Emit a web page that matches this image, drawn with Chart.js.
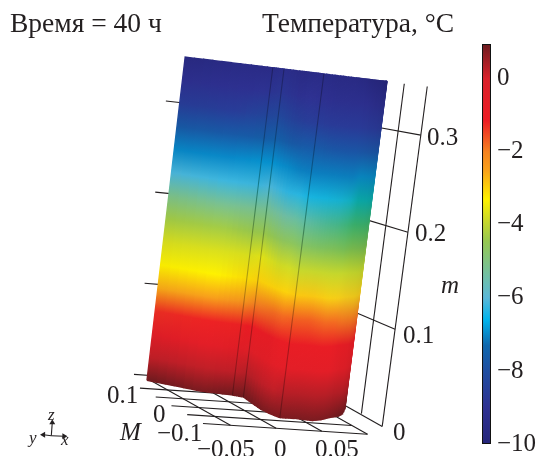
<!DOCTYPE html>
<html>
<head>
<meta charset="utf-8">
<script src="https://cdn.jsdelivr.net/npm/chart.js@4"></script>
<style>
	html, body { margin: 0; padding: 0; background: #fff; overflow: hidden; }
	#surface { position: absolute; left: 0; top: 0; }
	#colorbar { position: absolute; left: 470px; top: 0; }
</style>
</head>
<body>
<canvas id="surface" width="539" height="456"></canvas>
<canvas id="colorbar" width="69" height="456"></canvas>
<script>
// cross section of the wall
const crossX = [-0.054, -0.011, 0.0195, 0.0287, 0.0233, 0.0247, 0.0282, 0.0469, 0.062, 0.0752, 0.0892, 0.1036, 0.1139, 0.1306, 0.1436]
const crossM = [0.153, 0.107, 0.095, 0.087, 0.018, -0.0088, -0.03, -0.029, -0.035, -0.0251, -0.009, 0.004, 0.021, 0.0604, 0.098]
const columnShade = [0.97, 1, 0.98, 0.98, 0.98, 1, 1, 1, 1, 1, 0.98, 0.96, 0.94, 0.94, 0.96]
// how far a column leans to the greener, lit palette
const columnLit = [0, 0, 0, 0, 0, 0.1, 0.2, 0.4, 0.6, 0.8, 1, 1, 1, 1, 1]
const heights = [0, 0.025, 0.05, 0.075, 0.1, 0.125, 0.15, 0.175, 0.2, 0.225, 0.25, 0.275, 0.3, 0.325, 0.35]

// temperature per column, bottom to top
const temps = [
	[0.9, 0.2, -0.6, -1.3, -2.6, -3.3, -3.7, -4.3, -5.1, -6.1, -7.0, -7.7, -8.6, -9.1, -9.6],
	[0.8, 0.2, -0.6, -1.2, -2.5, -3.3, -3.7, -4.3, -5.2, -6.2, -7.0, -7.7, -8.6, -9.1, -9.5],
	[0.9, 0.2, -0.6, -1.2, -2.3, -3.1, -3.7, -4.4, -5.2, -6.2, -6.9, -7.6, -8.3, -8.9, -9.4],
	[0.9, 0.3, -0.5, -1.1, -2.0, -3.0, -3.6, -4.4, -5.2, -6.1, -6.9, -7.5, -8.2, -8.8, -9.2],
	[0.8, 0.2, -0.6, -0.9, -1.8, -3.0, -3.8, -4.6, -5.4, -6.3, -7.0, -7.7, -8.5, -9.0, -9.5],
	[0.8, 0.2, -0.6, -0.9, -1.8, -3.0, -3.8, -4.6, -5.4, -6.3, -7.1, -7.7, -8.6, -9.0, -9.5],
	[0.8, 0.3, -0.6, -0.9, -1.7, -2.9, -3.9, -4.7, -5.5, -6.4, -7.1, -7.7, -8.6, -9.1, -9.5],
	[0.8, 0.3, -0.6, -0.9, -1.7, -2.9, -3.9, -4.7, -5.5, -6.4, -7.1, -7.8, -8.7, -9.2, -9.6],
	[0.8, 0.3, -0.6, -0.9, -1.8, -3.0, -3.9, -4.6, -5.4, -6.3, -7.1, -7.8, -8.7, -9.2, -9.6],
	[0.8, 0.3, -0.6, -0.9, -1.8, -3.0, -3.9, -4.6, -5.3, -6.2, -7.1, -7.8, -8.7, -9.2, -9.7],
	[0.8, 0.3, -0.5, -0.9, -1.9, -3.0, -3.9, -4.5, -5.2, -6.0, -7.0, -7.8, -8.7, -9.2, -9.8],
	[0.9, 0.3, -0.5, -0.9, -1.9, -3.0, -3.9, -4.5, -5.2, -6.0, -7.0, -7.8, -8.7, -9.3, -9.8],
	[0.9, 0.3, -0.5, -0.9, -1.9, -3.0, -3.9, -4.5, -5.2, -6.0, -7.0, -7.8, -8.7, -9.3, -9.9],
	[0.9, 0.3, -0.5, -0.9, -1.9, -3.0, -3.9, -4.5, -5.2, -6.0, -7.0, -7.8, -8.7, -9.3, -9.9],
	[0.9, 0.3, -0.5, -0.9, -1.9, -3.0, -3.9, -4.5, -5.2, -6.0, -7.0, -7.8, -8.7, -9.3, -9.9],
]

// palette of the colour bar, and the same steps as seen on the lit side
const paletteValues = [-10, -9, -8, -7.3, -6.6, -6, -5.5, -4.45, -3.9, -3.3, -2.5, -2, -1.15, 0, 0.95]
const paletteColors = ['#25257a', '#2e3192', '#1f4ea1', '#0f68ae', '#00b4ec', '#5ab8d8', '#6dbfae', '#96c850', '#c8d82c', '#fff200', '#f9a01b', '#f58220', '#ed1c24', '#d9202a', '#6b1a1e']
const litColors = ['#25257a', '#2e3192', '#1f4ea1', '#0f68ae', '#00aed8', '#0aa9a8', '#1fab78', '#7dbb4c', '#c4d62c', '#f0e61a', '#f9a01b', '#f58220', '#ed1c24', '#d9202a', '#6b1a1e']

// axes
const xLines = [-0.05, 0, 0.05, 0.1]
const bigMLines = [0.1, 0.05, 0, -0.05, -0.1]
const mTicks = [0, 0.1, 0.2, 0.3]
const grooves = [2, 3, 6]

const serif = '"Liberation Serif", serif'
const ink = '#231f20'
const mTop = 0.35

// floor and top plane of the box, perspective is only approximated
function project(x, M, m) {
	const a = (x + 0.08) / 0.18
	const b = (M + 0.1) / 0.2
	const t = m / mTop
	const u0 = 202 + 167 * a - 64 * b
	const v0 = 427 + 11 * a - 36 * b
	const u1 = 248.2 + 168 * a - 70 * b
	const v1 = 62 + 20.4 * a - 8.6 * b
	return { x: u0 + (u1 - u0) * t, y: v0 + (v1 - v0) * t }
}

function hexToRgb(hex) {
	return [parseInt(hex.slice(1, 3), 16), parseInt(hex.slice(3, 5), 16), parseInt(hex.slice(5, 7), 16)]
}

function tempColor(t, shade, lit) {
	let i = 0
	while (i < paletteValues.length - 2 && t > paletteValues[i + 1]) i++
	const f = Math.min(1, Math.max(0, (t - paletteValues[i]) / (paletteValues[i + 1] - paletteValues[i])))
	const base0 = hexToRgb(paletteColors[i])
	const base1 = hexToRgb(paletteColors[i + 1])
	const lit0 = hexToRgb(litColors[i])
	const lit1 = hexToRgb(litColors[i + 1])
	const rgb = base0.map((v, k) => {
		const plain = v + (base1[k] - v) * f
		const warm = lit0[k] + (lit1[k] - lit0[k]) * f
		return Math.round((plain + (warm - plain) * lit) * shade)
	})
	return 'rgb(' + rgb.join(',') + ')'
}

// gradient running up one mesh column
function columnGradient(chart, x, M, column, shade, lit) {
	if (!chart.chartArea) return ink
	const sx = chart.scales.x
	const sy = chart.scales.y
	const p0 = project(x, M, 0)
	const p1 = project(x, M, mTop)
	const g = chart.ctx.createLinearGradient(sx.getPixelForValue(p0.x), sy.getPixelForValue(p0.y), sx.getPixelForValue(p1.x), sy.getPixelForValue(p1.y))
	column.forEach((t, i) => g.addColorStop(heights[i] / mTop, tempColor(t, shade, lit)))
	return g
}

function axisLine(points) {
	return { data: points, showLine: true, borderColor: ink, borderWidth: 1.1, pointRadius: 0, fill: false }
}

const surfaceSets = []
const steps = 6
for (let c = 0; c < crossX.length - 1; c++) {
	for (let s = 0; s < steps; s++) {
		const f0 = s / steps
		const f1 = (s + 1) / steps
		const fm = (f0 + f1) / 2
		const x0 = crossX[c] + (crossX[c + 1] - crossX[c]) * f0
		const x1 = crossX[c] + (crossX[c + 1] - crossX[c]) * f1
		const M0 = crossM[c] + (crossM[c + 1] - crossM[c]) * f0
		const M1 = crossM[c] + (crossM[c + 1] - crossM[c]) * f1
		const xm = (x0 + x1) / 2
		const Mm = (M0 + M1) / 2
		const column = temps[c].map((t, i) => t + (temps[c + 1][i] - t) * fm)
		const shade = columnShade[c] + (columnShade[c + 1] - columnShade[c]) * fm
		const lit = columnLit[c] + (columnLit[c + 1] - columnLit[c]) * fm
		const paint = (ctx) => columnGradient(ctx.chart, xm, Mm, column, shade, lit)
		surfaceSets.push({
			data: [project(x0, M0, 0), project(x1, M1, 0), project(x1, M1, mTop), project(x0, M0, mTop), project(x0, M0, 0)],
			showLine: true,
			fill: 'shape',
			backgroundColor: paint,
			borderColor: paint,
			borderWidth: 1.4,
			pointRadius: 0,
		})
	}
}

const grooveSets = grooves.map((c) => ({
	data: [project(crossX[c], crossM[c], 0), project(crossX[c], crossM[c], mTop)],
	showLine: true,
	fill: false,
	borderColor: (ctx) => columnGradient(ctx.chart, crossX[c], crossM[c], temps[c], 0.72, 0.6),
	borderWidth: 1.1,
	pointRadius: 0,
}))

const axisSets = []
bigMLines.forEach((M) => axisSets.push(axisLine([project(-0.08, M, 0), project(0.1, M, 0)])))
xLines.forEach((x) => axisSets.push(axisLine([project(x, -0.1, 0), project(x, 0.16, 0)])))
// m axis: ticks run to the right upright, stubs stay on the left
mTicks.forEach((m) => {
	axisSets.push(axisLine([project(0.1356, -0.0434, m), project(0.1356, 0.1, m)]))
	axisSets.push(axisLine([project(-0.057, 0.1856, m), project(-0.035, 0.1856, m)]))
})
axisSets.push(axisLine([project(0.138, 0.0296, 0), project(0.138, 0.0296, mTop)]))
axisSets.push(axisLine([project(0.1356, -0.0434, 0), project(0.1356, -0.0434, mTop)]))

// small orientation triad
const triad = [
	{ tip: { x: 49, y: 426 }, angle: 0 },
	{ tip: { x: 40, y: 438.5 }, angle: -90 },
	{ tip: { x: 61, y: 440 }, angle: 90 },
].map((a) => ({
	data: [{ x: 48, y: 439.5 }, a.tip],
	showLine: true,
	fill: false,
	borderColor: ink,
	backgroundColor: ink,
	borderWidth: 1.1,
	pointStyle: 'triangle',
	pointRadius: [0, 3.4],
	pointBorderWidth: 0,
	pointBackgroundColor: ink,
	pointRotation: [0, a.angle],
}))

const title = '27.5px ' + serif
const roman = '25px ' + serif
const italic = 'italic 25px ' + serif
const small = 'italic 17px ' + serif
const notes = [
	['Время = 40 ч', 10, 32, title],
	['Температура, °C', 262, 32, title],
	['0.1', 107, 403, roman],
	['0', 153, 422, roman],
	['−0.1', 157, 441, roman],
	['M', 120, 440, italic],
	['−0.05', 197, 457, roman],
	['0', 274, 457, roman],
	['0.05', 315, 457, roman],
	['0', 393, 440, roman],
	['0.1', 403, 343, roman],
	['0.2', 415, 241, roman],
	['0.3', 427, 145, roman],
	['m', 441, 293, italic],
	['z', 48, 420, small],
	['y', 29, 443, small],
	['x', 61, 445, small],
]

const textPlugin = {
	id: 'notes',
	afterDraw(chart) {
		const ctx = chart.ctx
		ctx.save()
		ctx.fillStyle = ink
		ctx.textAlign = 'left'
		notes.forEach((n) => {
			ctx.font = n[3]
			ctx.fillText(n[0], n[1], n[2])
		})
		ctx.restore()
	},
}

const surfaceChart = new Chart(document.getElementById('surface').getContext('2d'), {
	type: 'scatter',
	data: { datasets: [...triad, ...grooveSets, ...surfaceSets, ...axisSets] },
	options: {
		responsive: false,
		animation: false,
		layout: { padding: 0 },
		plugins: { legend: { display: false }, tooltip: { enabled: false } },
		scales: {
			x: { type: 'linear', min: 0, max: 539, display: false },
			y: { type: 'linear', min: 0, max: 456, reverse: true, display: false },
		},
	},
	plugins: [textPlugin],
})
surfaceChart.update('none')

const barChart = new Chart(document.getElementById('colorbar').getContext('2d'), {
	type: 'bar',
	data: {
		labels: ['T'],
		datasets: [
			{
				data: [[-10, 0.95]],
				barPercentage: 1,
				categoryPercentage: 1,
				borderColor: '#111',
				borderWidth: 1.4,
				borderSkipped: false,
				backgroundColor: (ctx) => {
					if (!ctx.chart.chartArea) return ink
					const y = ctx.chart.scales.y
					const g = ctx.chart.ctx.createLinearGradient(0, y.getPixelForValue(-10), 0, y.getPixelForValue(0.95))
					paletteValues.forEach((v, i) => g.addColorStop((v + 10) / 10.95, paletteColors[i]))
					return g
				},
			},
		],
	},
	options: {
		responsive: false,
		animation: false,
		layout: { padding: { left: 12, top: 44, bottom: 12, right: 0 } },
		plugins: { legend: { display: false }, tooltip: { enabled: false } },
		scales: {
			x: { display: false },
			y: {
				position: 'right',
				min: -10,
				max: 0.95,
				grid: { display: false, drawTicks: false },
				border: { display: false },
				afterFit: (scale) => {
					scale.width = 48
					scale.paddingTop = 0
					scale.paddingBottom = 0
				},
				ticks: {
					stepSize: 2,
					padding: 6,
					color: ink,
					font: { family: serif, size: 25 },
					callback: (v) => (v % 2 === 0 ? String(v).replace('-', '−') : ''),
				},
			},
		},
	},
})
barChart.update('none')
</script>
</body>
</html>
